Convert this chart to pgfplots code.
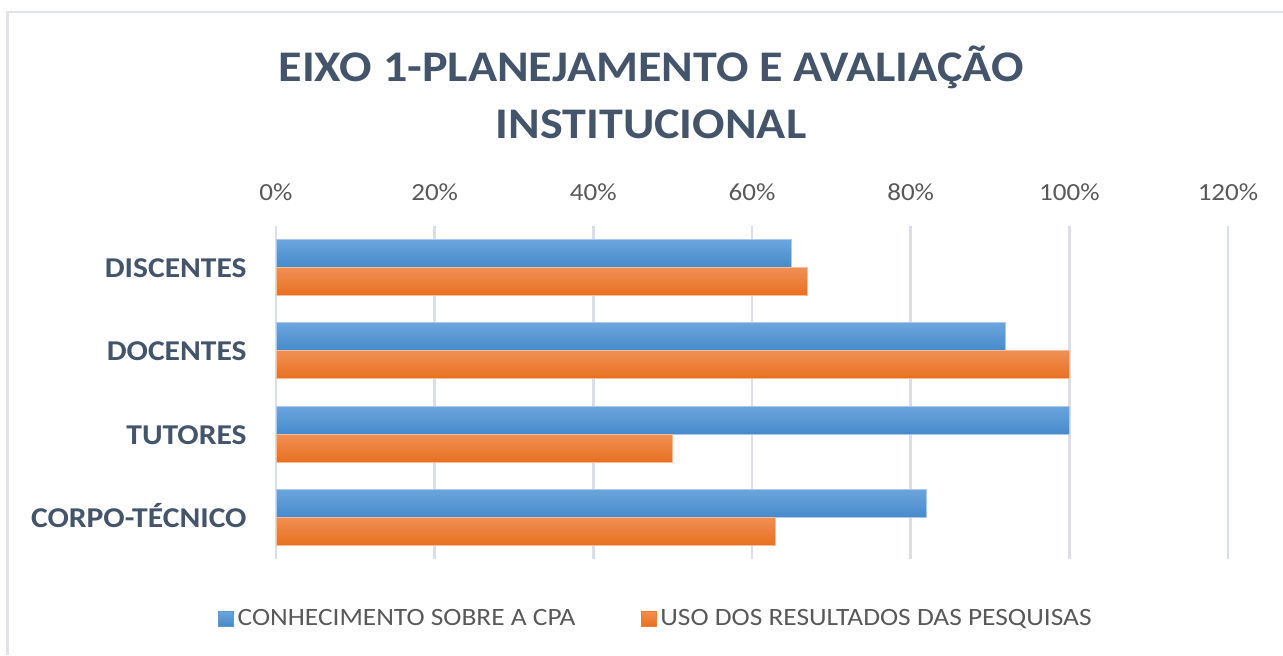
\documentclass[border=0pt]{standalone}
\usepackage{pgfplots}
\pgfplotsset{compat=1.18}
\usepackage{fontspec}
\setmainfont{Carlito}
\newfontfamily\widefont[FakeStretch=1.1]{Carlito}
\definecolor{titlec}{HTML}{44546A}
\definecolor{tickc}{HTML}{595959}
\definecolor{gridc}{HTML}{D9DEE7}
\definecolor{framec}{HTML}{E0E3E8}
\definecolor{bluetop}{HTML}{6CA5DD}
\definecolor{bluebot}{HTML}{468ACB}
\definecolor{blueedge}{HTML}{A9CAEB}
\definecolor{orgtop}{HTML}{F08F55}
\definecolor{orgbot}{HTML}{E8701F}
\definecolor{orgedge}{HTML}{F6BC98}
\definecolor{blueleg}{HTML}{5B9BD5}
\definecolor{orgleg}{HTML}{ED7D31}
\pgfplotsset{
  bluebar/.style={bar shift=7pt, top color=bluetop, bottom color=bluebot, draw=blueedge, line width=0.4pt,
    legend image code/.code={\fill[blueleg] (0pt,-3.75pt) rectangle (7.5pt,3.75pt);}},
  orgbar/.style={bar shift=-7pt, top color=orgtop, bottom color=orgbot, draw=orgedge, line width=0.4pt,
    legend image code/.code={\fill[orgleg] (0pt,-3.75pt) rectangle (7.5pt,3.75pt);}},
}
\begin{document}
\begin{tikzpicture}
\useasboundingbox (0,0) rectangle (641.5pt,327.5pt);
\draw[framec, line width=1.3pt] (3.75pt,0pt) -- (3.75pt,321.5pt) -- (641.5pt,321.5pt);
\node[anchor=base, font=\widefont\fontsize{21.85}{26}\selectfont\bfseries, text=titlec, inner sep=0pt] at (325.5pt,287pt) {EIXO 1-PLANEJAMENTO E AVALIAÇÃO};
\node[anchor=base, font=\widefont\fontsize{21.85}{26}\selectfont\bfseries, text=titlec, inner sep=0pt] at (325.5pt,258.5pt) {INSTITUCIONAL};
\begin{axis}[
  at={(138pt,48pt)}, anchor=south west,
  scale only axis, width=476pt, height=166.5pt,
  xbar, bar width=14pt,
  xmin=0, xmax=120, ymin=-0.5, ymax=3.5,
  xtick={0,20,40,60,80,100,120},
  xticklabels={0\%,20\%,40\%,60\%,80\%,100\%,120\%},
  xticklabel pos=upper,
  ytick={0,1,2,3},
  yticklabels={CORPO-TÉCNICO,TUTORES,DOCENTES,DISCENTES},
  xmajorgrids,
  major grid style={color=gridc, line width=1.2pt},
  axis line style={draw=none},
  major tick length=0pt,
  tick style={draw=none},
  xticklabel style={anchor=base, inner sep=0pt, yshift=13pt, font=\widefont\fontsize{12.3}{14}\selectfont, text=tickc},
  yticklabel style={anchor=base east, inner sep=0pt, xshift=-14.5pt, yshift=-5pt, font=\widefont\fontsize{14.35}{18}\selectfont\bfseries, text=titlec},
  legend columns=2,
  legend style={draw=none, fill=none, inner sep=0pt, at={(rel axis cs:0,0)}, anchor=west, xshift=-29pt, yshift=-29.75pt,
    font=\widefont\fontsize{12.45}{14}\selectfont, text=tickc,
    /tikz/every even column/.append style={column sep=31pt},
    nodes={inner sep=1.75pt}},
  legend cell align=left,
]
% CONHECIMENTO SOBRE A CPA
\addplot[bluebar] coordinates {(65,3)};
\addlegendentry{CONHECIMENTO SOBRE A CPA}
\addplot[bluebar, forget plot] coordinates {(92,2)};
\addplot[bluebar, forget plot] coordinates {(100,1)};
\addplot[bluebar, forget plot] coordinates {(82,0)};
% USO DOS RESULTADOS DAS PESQUISAS
\addplot[orgbar] coordinates {(67,3)};
\addlegendentry{USO DOS RESULTADOS DAS PESQUISAS}
\addplot[orgbar, forget plot] coordinates {(100,2)};
\addplot[orgbar, forget plot] coordinates {(50,1)};
\addplot[orgbar, forget plot] coordinates {(63,0)};
\end{axis}
\end{tikzpicture}
\end{document}
